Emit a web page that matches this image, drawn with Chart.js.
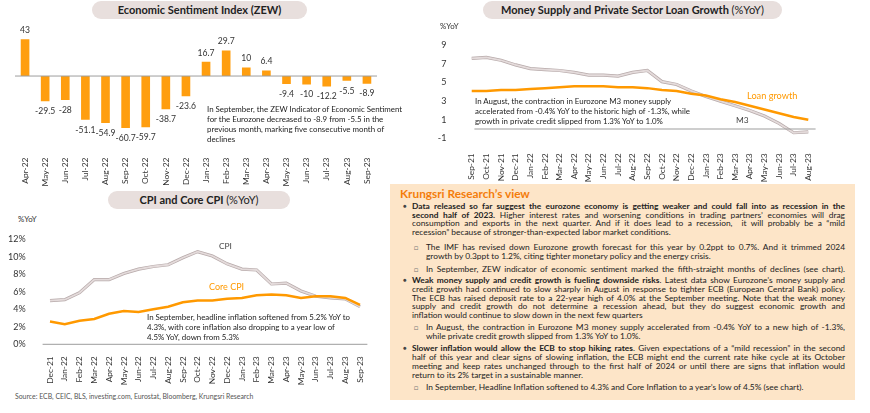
<!DOCTYPE html>
<html>
<head>
<meta charset="utf-8">
<script src="https://cdn.jsdelivr.net/npm/chart.js@4.4.0/dist/chart.umd.min.js"></script>
<style>
  body { margin:0; width:870px; height:413px; background:#fff; font-family:Lato, sans-serif; color:#222; position:relative; overflow:hidden; }
  .abs { position:absolute; }
  .pill { position:absolute; background:#e8dfdd; border-radius:10px; text-align:center; font-weight:bold; font-size:11px; line-height:18px; color:#222; }
  .pill span { font-weight:normal; }
  .note { position:absolute; font-size:7.9px; line-height:10px; color:#222; white-space:nowrap; }
  .box { position:absolute; left:390px; top:184px; width:465px; height:216px; background:#fde5c8; }
  .box h3 { margin:0; position:absolute; left:10px; top:2px; font-size:11.8px; color:#f47d0b; font-weight:bold; }
  .txt { position:absolute; left:22px; top:18px; width:433px; font-size:8.4px; line-height:8.7px; color:#222; }
  .txt p { margin:0; position:relative; }
  .txt p i { font-style:normal; display:block; text-align:justify; text-align-last:justify; }
  .txt p i.e { text-align:left; text-align-last:left; }
  .txt p.b::before { content:'●'; position:absolute; left:-9px; top:0; font-size:6px; color:#444; }
  .txt p.s { margin-left:14px; }
  .txt p.s::before { content:'□'; position:absolute; left:-12px; top:0; font-size:7px; color:#777; }
</style>
</head>
<body>
<div class="pill" style="left:92px;top:1px;width:215px;">Economic Sentiment Index (ZEW)</div>
<div class="pill" style="left:483px;top:1px;width:299px;">Money Supply and Private Sector Loan Growth <span>(%YoY)</span></div>
<div class="pill" style="left:108px;top:191px;width:182px;">CPI and Core CPI <span>(%YoY)</span></div>

<div class="abs" style="left:0;top:20px;width:390px;height:170px;"><canvas id="zew"></canvas></div>
<div class="abs" style="left:430px;top:30px;width:440px;height:160px;"><canvas id="money"></canvas></div>
<div class="abs" style="left:0;top:225px;width:375px;height:164px;"><canvas id="cpi"></canvas></div>

<div class="note" style="left:207px;top:104px;">In September, the ZEW Indicator of Economic Sentiment<br>for the Eurozone decreased to -8.9 from -5.5 in the<br>previous month, marking five consecutive month of<br>declines</div>
<div class="note" style="left:475px;top:96px;">In August, the contraction in Eurozone M3 money supply<br>accelerated from -0.4% YoY to the historic high of -1.3%, while<br>growth in private credit slipped from 1.3% YoY to 1.0%</div>
<div class="note" style="left:147px;top:312px;">In September, headline inflation softened from 5.2% YoY to<br>4.3%, with core inflation also dropping to a year low of<br>4.5% YoY, down from 5.3%</div>

<div class="abs" style="left:440px;top:21px;font-size:7.8px;color:#333;">%YoY</div>
<div class="abs" style="left:18px;top:214px;font-size:7.8px;color:#333;">%YoY</div>
<div class="abs" style="left:747px;top:90px;font-size:9.2px;color:#ff9900;">Loan growth</div>
<div class="abs" style="left:736px;top:115px;font-size:8.4px;color:#444;">M3</div>
<div class="abs" style="left:219px;top:241px;font-size:8.4px;color:#444;">CPI</div>
<div class="abs" style="left:209px;top:281px;font-size:9px;color:#ff9900;">Core CPI</div>
<div class="abs" style="left:15px;top:392px;font-size:6.9px;color:#555;">Source: ECB, CEIC, BLS, investing.com, Eurostat, Bloomberg, Krungsri Research</div>

<div class="box">
  <h3>Krungsri Research’s view</h3>
  <div class="txt">
    <p class="b">
      <i><b>Data released so far suggest the eurozone economy is getting weaker and could fall into as recession in the</b></i>
      <i><b>second half of 2023.</b> Higher interest rates and worsening conditions in trading partners’ economies will drag</i>
      <i>consumption and exports in the next quarter. And if it does lead to a recession,&nbsp; it will probably be a “mild</i>
      <i class="e">recession” because of stronger-than-expected labor market conditions.</i>
    </p>
    <p class="s" style="margin-top:6px;">
      <i>The IMF has revised down Eurozone growth forecast for this year by 0.2ppt to 0.7%. And it trimmed 2024</i>
      <i class="e">growth by 0.3ppt to 1.2%, citing tighter monetary policy and the energy crisis.</i>
    </p>
    <p class="s" style="margin-top:4.5px;">
      <i>In September, ZEW indicator of economic sentiment marked the fifth-straight months of declines (see chart).</i>
    </p>
    <p class="b" style="margin-top:2.7px;">
      <i><b>Weak money supply and credit growth is fueling downside risks</b>. Latest data show Eurozone’s money supply and</i>
      <i>credit growth had continued to slow sharply in August in response to tighter ECB (European Central Bank) policy.</i>
      <i>The ECB has raised deposit rate to a 22-year high of 4.0% at the September meeting. Note that the weak money</i>
      <i>supply and credit growth do not determine a recession ahead, but they do suggest economic growth and</i>
      <i class="e">inflation would continue to slow down in the next few quarters</i>
    </p>
    <p class="s" style="margin-top:3.7px;">
      <i>In August, the contraction in Eurozone M3 money supply accelerated from -0.4% YoY to a new high of -1.3%,</i>
      <i class="e">while private credit growth slipped from 1.3% YoY to 1.0%.</i>
    </p>
    <p class="b" style="margin-top:3.7px;">
      <i><b>Slower inflation would allow the ECB to stop hiking rates</b>. Given expectations of a “mild recession” in the second</i>
      <i>half of this year and clear signs of slowing inflation, the ECB might end the current rate hike cycle at its October</i>
      <i>meeting and keep rates unchanged through to the first half of 2024 or until there are signs that inflation would</i>
      <i class="e">return to its 2% target in a sustainable manner.</i>
    </p>
    <p class="s" style="margin-top:3.7px;">
      <i class="e">In September, Headline Inflation softened to 4.3% and Core Inflation to a year’s low of 4.5% (see chart).</i>
    </p>
  </div>
</div>

<script>
const zewLabels = ['Apr-22','May-22','Jun-22','Jul-22','Aug-22','Sep-22','Oct-22','Nov-22','Dec-22','Jan-23','Feb-23','Mar-23','Apr-23','May-23','Jun-23','Jul-23','Aug-23','Sep-23'];
const zewValues = [43, -29.5, -28, -51.1, -54.9, -60.7, -59.7, -38.7, -23.6, 16.7, 29.7, 10, 6.4, -9.4, -10, -12.2, -5.5, -8.9];

const moneyLabels = ['Sep-21','Oct-21','Nov-21','Dec-21','Jan-22','Feb-22','Mar-22','Apr-22','May-22','Jun-22','Jul-22','Aug-22','Sep-22','Oct-22','Nov-22','Dec-22','Jan-23','Feb-23','Mar-23','Apr-23','May-23','Jun-23','Jul-23','Aug-23'];
const m3Values = [7.6, 7.7, 7.4, 6.9, 6.5, 6.4, 6.3, 6.1, 5.8, 5.8, 5.7, 6.1, 6.3, 5.1, 4.8, 4.1, 3.5, 3.0, 2.5, 2.0, 1.4, 0.6, -0.4, -0.3];
const loanValues = [4.1, 4.1, 4.2, 4.2, 4.3, 4.4, 4.5, 4.6, 4.6, 4.6, 4.5, 4.5, 4.4, 4.2, 4.1, 3.8, 3.6, 3.2, 2.9, 2.5, 2.1, 1.7, 1.3, 1.0];

const cpiLabels = ['Dec-21','Jan-22','Feb-22','Mar-22','Apr-22','May-22','Jun-22','Jul-22','Aug-22','Sep-22','Oct-22','Nov-22','Dec-22','Jan-23','Feb-23','Mar-23','Apr-23','May-23','Jun-23','Jul-23','Aug-23','Sep-23'];
const cpiValues = [5.0, 5.1, 5.9, 7.4, 7.4, 8.1, 8.6, 8.9, 9.1, 9.9, 10.6, 10.1, 9.2, 8.6, 8.5, 6.9, 7.0, 6.1, 5.5, 5.3, 5.2, 4.3];
const coreValues = [2.6, 2.3, 2.7, 2.9, 3.5, 3.8, 3.7, 4.0, 4.3, 4.8, 5.0, 5.0, 5.2, 5.3, 5.6, 5.7, 5.6, 5.3, 5.5, 5.5, 5.3, 4.5];

Chart.defaults.font.family = 'Lato';
Chart.defaults.font.size = 8.4;
Chart.defaults.color = '#333';
Chart.defaults.animation = false;

// horizontal line at value 0
const zeroLine = {
    id: 'zeroLine',
    afterDatasetsDraw(chart, args, opts) {
        if (!opts.show) return;
        const { ctx, chartArea, scales } = chart;
        const y = scales.y.getPixelForValue(0);
        ctx.save();
        ctx.strokeStyle = '#9d9d9d';
        ctx.lineWidth = 1;
        ctx.beginPath();
        ctx.moveTo(chartArea.left + (opts.inset || 0), y);
        ctx.lineTo(chartArea.right, y);
        ctx.stroke();
        ctx.restore();
    }
};

// value labels for the ZEW bars
const barValues = {
    id: 'barValues',
    afterDatasetsDraw(chart, args, opts) {
        if (!opts.show) return;
        const { ctx } = chart;
        const meta = chart.getDatasetMeta(0);
        ctx.save();
        ctx.font = '8.6px Lato';
        ctx.fillStyle = '#333';
        ctx.textAlign = 'center';
        ctx.textBaseline = 'middle';
        meta.data.forEach((bar, i) => {
            const v = chart.data.datasets[0].data[i];
            ctx.fillText(String(v), bar.x, v >= 0 ? bar.y - 9 : bar.y + 10);
        });
        ctx.restore();
    }
};
Chart.register(zeroLine, barValues);

const xTicks = { minRotation: 90, maxRotation: 90, autoSkip: false, color: '#333', font: { size: 8.4 } };

new Chart(document.getElementById('zew'), {
    type: 'bar',
    data: {
        labels: zewLabels,
        datasets: [{ data: zewValues, backgroundColor: '#ff9e0f', barPercentage: 0.43, categoryPercentage: 1 }]
    },
    options: {
        responsive: true,
        maintainAspectRatio: false,
        layout: { padding: { left: 15, right: 13, top: 8.9, bottom: 0 } },
        plugins: { legend: { display: false }, tooltip: { enabled: false }, zeroLine: { show: true }, barValues: { show: true } },
        scales: {
            x: { grid: { display: false }, border: { display: false }, ticks: { ...xTicks, padding: 5 }, afterFit: s => { s.height = 45.4; } },
            y: { display: false, min: -80, max: 55 }
        }
    }
});

new Chart(document.getElementById('money'), {
    type: 'line',
    data: {
        labels: moneyLabels,
        datasets: [
            { data: loanValues, borderColor: '#ff9900', borderWidth: 2.5, pointRadius: 0 },
            { data: m3Values, borderColor: '#e4dbdb', borderWidth: 1.8, pointRadius: 0 },
            { data: m3Values, borderColor: '#b7aaaa', borderWidth: 3.2, pointRadius: 0 }
        ]
    },
    options: {
        responsive: true,
        maintainAspectRatio: false,
        layout: { padding: { left: 0, right: 54.4, top: 11.7, bottom: 0 } },
        plugins: { legend: { display: false }, tooltip: { enabled: false }, zeroLine: { show: true, inset: 10 } },
        scales: {
            x: { offset: true, grid: { display: false }, border: { display: false }, ticks: { ...xTicks, padding: 7 }, afterFit: s => { s.height = 51.7; } },
            y: { min: -1, max: 9, grid: { display: false }, border: { display: false },
                 ticks: { stepSize: 2, padding: 10, color: '#333', font: { size: 9 } }, afterFit: s => { s.width = 34.4; } }
        }
    }
});

new Chart(document.getElementById('cpi'), {
    type: 'line',
    data: {
        labels: cpiLabels,
        datasets: [
            { data: coreValues, borderColor: '#ff9900', borderWidth: 2.5, pointRadius: 0 },
            { data: cpiValues, borderColor: '#e4dbdb', borderWidth: 1.8, pointRadius: 0 },
            { data: cpiValues, borderColor: '#b7aaaa', borderWidth: 3.2, pointRadius: 0 }
        ]
    },
    options: {
        responsive: true,
        maintainAspectRatio: false,
        layout: { padding: { left: 0, right: 7.6, top: 10.7, bottom: 0 } },
        plugins: { legend: { display: false }, tooltip: { enabled: false }, zeroLine: { show: true } },
        scales: {
            x: { offset: true, grid: { display: false }, border: { display: false }, ticks: { ...xTicks, padding: 4 }, afterFit: s => { s.height = 44.7; } },
            y: { min: 0, max: 12, grid: { display: false }, border: { display: false },
                 ticks: { stepSize: 2, padding: 9, color: '#333', font: { size: 9 }, callback: v => v + '%' }, afterFit: s => { s.width = 42.6; } }
        }
    }
});
</script>
</body>
</html>
